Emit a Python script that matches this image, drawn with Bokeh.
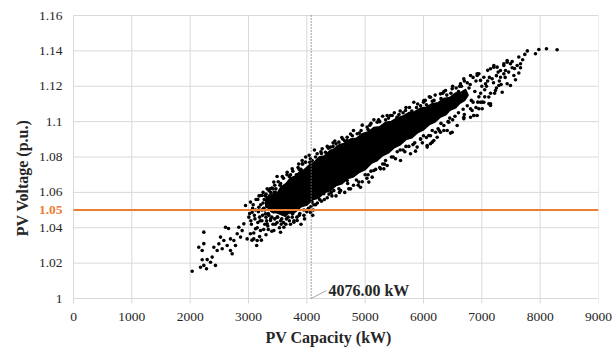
import math
from bokeh.plotting import figure
from bokeh.models import Range1d, FixedTicker, ColumnDataSource, Title
from bokeh.core.properties import value
from bokeh.embed import file_html
from bokeh.resources import INLINE

# ---------------- data ----------------
x_ticks = [0, 1000, 2000, 3000, 4000, 5000, 6000, 7000, 8000, 9000]
y_ticks = [1.00, 1.02, 1.04, 1.06, 1.08, 1.10, 1.12, 1.14, 1.16]
y_tick_labels = ["1", "1.02", "1.04", "1.06", "1.08", "1.1", "1.12", "1.14", "1.16"]
voltage_limit = 1.05          # p.u. (orange line)
capacity_at_limit = 4076.00   # kW (dotted line)

# sparse lower-left tail (kW, p.u.)
left_tail = [
    (2034, 1.0154), (2148, 1.0290), (2206, 1.0271), (2234, 1.0375), (2177, 1.0177),
    (2234, 1.0187), (2280, 1.0168), (2206, 1.0219), (2292, 1.0220), (2349, 1.0205),
    (2434, 1.0187), (2377, 1.0234), (2406, 1.0290), (2463, 1.0271), (2492, 1.0309),
    (2549, 1.0281), (2520, 1.0347), (2577, 1.0328), (2606, 1.0403), (2634, 1.0300),
    (2691, 1.0271), (2720, 1.0253), (2749, 1.0328), (2777, 1.0300), (2691, 1.0337),
    (2806, 1.0366), (2863, 1.0347), (2834, 1.0403), (2891, 1.0384), (2920, 1.0422),
    (2949, 1.0526), (3034, 1.0545), (2977, 1.0337), (3034, 1.0366), (3091, 1.0337),
    (3149, 1.0328), (3120, 1.0394), (3206, 1.0384), (3006, 1.0460), (3063, 1.0488),
    (3234, 1.0582), (3291, 1.0479), (3320, 1.0422), (3377, 1.0441), (3434, 1.0384),
    (3549, 1.0375), (3606, 1.0403), (3491, 1.0460), (3777, 1.0431), (3834, 1.0441),
    (3663, 1.0516), (3377, 1.0554), (3177, 1.0516), (2657, 1.0396), (2234, 1.0310),
]

# medium-density mass 3000-4100 kW
mid_mass = [
    (3020, 1.0480), (3050, 1.0420), (3070, 1.0510), (3090, 1.0370), (3110, 1.0450),
    (3130, 1.0560), (3150, 1.0400), (3170, 1.0490), (3190, 1.0350), (3210, 1.0530),
    (3230, 1.0440), (3250, 1.0600), (3260, 1.0390), (3280, 1.0500), (3300, 1.0460),
    (3320, 1.0570), (3330, 1.0410), (3350, 1.0530), (3370, 1.0620), (3380, 1.0450),
    (3400, 1.0380), (3410, 1.0550), (3430, 1.0490), (3450, 1.0640), (3460, 1.0420),
    (3480, 1.0580), (3500, 1.0460), (3510, 1.0660), (3530, 1.0400), (3550, 1.0600),
    (3560, 1.0500), (3580, 1.0690), (3600, 1.0430), (3620, 1.0630), (3640, 1.0540),
    (3660, 1.0700), (3680, 1.0460), (3700, 1.0600), (3720, 1.0420), (3740, 1.0510),
    (3760, 1.0720), (3780, 1.0440), (3800, 1.0660), (3830, 1.0460), (3860, 1.0760),
    (3880, 1.0480), (3900, 1.0420), (3920, 1.0780), (3950, 1.0470), (3980, 1.0800),
    (4010, 1.0500), (4040, 1.0810), (4070, 1.0520), (4100, 1.0470), (4130, 1.0840),
    (3060, 1.0330), (3140, 1.0300), (3220, 1.0330), (3300, 1.0360), (3180, 1.0580),
    (3270, 1.0560), (3340, 1.0480), (3420, 1.0420), (3440, 1.0600), (3520, 1.0560),
    (3570, 1.0450), (3620, 1.0500), (3660, 1.0580), (3700, 1.0650), (3730, 1.0560),
    (3780, 1.0610), (3810, 1.0520), (3206, 1.0582), (3320, 1.0620), (3434, 1.0658),
    (3380, 1.0600), (3490, 1.0690), (3100, 1.0470), (3160, 1.0430), (3240, 1.0470),
    (3280, 1.0420), (3310, 1.0520), (3360, 1.0580), (3390, 1.0500), (3420, 1.0620),
    (3470, 1.0530), (3490, 1.0430), (3540, 1.0640), (3590, 1.0550), (3630, 1.0470),
    (3670, 1.0650), (3690, 1.0510), (3720, 1.0700), (3750, 1.0460), (3200, 1.0440),
    (3260, 1.0510), (3340, 1.0390), (3460, 1.0600), (3520, 1.0500), (3580, 1.0620),
    (3640, 1.0420),
]

# more points inside / around the main band
band_extra = [
    (3040, 1.0440), (3080, 1.0530), (3120, 1.0500), (3160, 1.0560), (3190, 1.0460),
    (3230, 1.0500), (3250, 1.0540), (3290, 1.0580), (3310, 1.0440), (3350, 1.0610),
    (3370, 1.0510), (3400, 1.0460), (3440, 1.0540), (3470, 1.0620), (3500, 1.0520),
    (3530, 1.0600), (3560, 1.0420), (3600, 1.0600), (3650, 1.0480), (3700, 1.0440),
    (3760, 1.0480), (3820, 1.0700), (3870, 1.0730), (3930, 1.0760), (3960, 1.0450),
    (4000, 1.0490), (4060, 1.0790), (4110, 1.0500), (4180, 1.0540), (4240, 1.0830),
    (4300, 1.0560), (4370, 1.0850), (4430, 1.0580), (4480, 1.0890), (4560, 1.0600),
    (4620, 1.0900), (4720, 1.0620), (4780, 1.0920), (4880, 1.0640), (4930, 1.0950),
    (5030, 1.0680), (5080, 1.0980), (5180, 1.0730), (5230, 1.1010), (5330, 1.0760),
    (5400, 1.1020), (5520, 1.0790), (5580, 1.1040), (5680, 1.0830), (5760, 1.1080),
    (5820, 1.0870), (5880, 1.1080), (5980, 1.0880), (6030, 1.1120), (6120, 1.0920),
    (6180, 1.1120), (6270, 1.0950), (6330, 1.1160), (6420, 1.1000), (6470, 1.1160),
    (6540, 1.1030), (6620, 1.1200), (6680, 1.1070), (6780, 1.1190), (6820, 1.1120),
    (6880, 1.1170), (6930, 1.1110), (6980, 1.1160), (7080, 1.1200), (7130, 1.1250),
    (7200, 1.1220), (7220, 1.1160), (7280, 1.1280), (7330, 1.1210), (7400, 1.1250),
    (7460, 1.1280), (7520, 1.1340), (7560, 1.1300), (7700, 1.1350), (7780, 1.1400),
]

# points along the upper edge of the cloud
upper_fringe = [
    (3663, 1.0714), (3749, 1.0733), (3920, 1.0761), (3977, 1.0771), (4091, 1.0780),
    (4177, 1.0818), (4263, 1.0846), (4320, 1.0827), (4406, 1.0856), (4520, 1.0856),
    (4549, 1.0884), (4691, 1.0912), (4863, 1.0931), (5034, 1.0969), (5206, 1.0997),
    (5377, 1.1035), (5434, 1.1035), (5463, 1.1035), (5549, 1.1025), (5691, 1.1063),
    (5720, 1.1035), (5834, 1.1110), (6006, 1.1119), (6120, 1.1138), (6291, 1.1157),
    (6377, 1.1176), (6491, 1.1186), (6634, 1.1214), (6691, 1.1242), (6806, 1.1261),
    (6920, 1.1270), (7034, 1.1251), (7206, 1.1308), (7377, 1.1317), (7434, 1.1336),
    (4350, 1.0860), (4450, 1.0880), (4600, 1.0910), (4750, 1.0930), (4800, 1.0950),
    (4950, 1.0980), (5100, 1.0990), (5150, 1.1010), (5300, 1.1030), (5500, 1.1050),
    (5600, 1.1060), (5700, 1.1080), (5900, 1.1100), (6000, 1.1110), (6100, 1.1140),
    (6200, 1.1150), (6350, 1.1170), (6500, 1.1200), (6560, 1.1190), (6700, 1.1230),
    (6750, 1.1220), (6850, 1.1250), (6950, 1.1270), (7100, 1.1290), (4691, 1.0893),
    (3300, 1.0590), (3400, 1.0625), (3550, 1.0650), (3600, 1.0680), (3700, 1.0690),
    (3850, 1.0740), (3900, 1.0730), (4050, 1.0770), (4150, 1.0800), (4250, 1.0820),
    (4450, 1.0860), (4500, 1.0875), (4650, 1.0890), (4900, 1.0935), (5050, 1.0955),
    (5250, 1.1000), (5350, 1.1010), (5550, 1.1025), (5650, 1.1050), (5800, 1.1060),
    (5950, 1.1090), (6050, 1.1095), (6150, 1.1115), (6300, 1.1130), (6400, 1.1150),
    (6600, 1.1170), (6650, 1.1200), (6800, 1.1210), (6900, 1.1230), (7000, 1.1200),
    (7050, 1.1180), (7100, 1.1230), (7250, 1.1260), (7300, 1.1230),
]

# points along the lower edge of the cloud
lower_fringe = [
    (4063, 1.0486), (4091, 1.0545), (4150, 1.0530), (4177, 1.0573), (4220, 1.0560),
    (4291, 1.0592), (4350, 1.0570), (4420, 1.0600), (4463, 1.0611), (4500, 1.0580),
    (4580, 1.0610), (4650, 1.0600), (4691, 1.0667), (4749, 1.0620), (4800, 1.0640),
    (4891, 1.0658), (4920, 1.0629), (4950, 1.0660), (5050, 1.0700), (5063, 1.0658),
    (5120, 1.0686), (5149, 1.0724), (5250, 1.0740), (5263, 1.0733), (5320, 1.0733),
    (5350, 1.0780), (5377, 1.0752), (5480, 1.0800), (5550, 1.0830), (5606, 1.0780),
    (5650, 1.0840), (5750, 1.0860), (5777, 1.0818), (5863, 1.0833), (5891, 1.0856),
    (5949, 1.0903), (5950, 1.0900), (6050, 1.0910), (6063, 1.0856), (6063, 1.0865),
    (6091, 1.0922), (6120, 1.0875), (6149, 1.0884), (6177, 1.0893), (6206, 1.0940),
    (6234, 1.0912), (6250, 1.0960), (6291, 1.0940), (6349, 1.0950), (6349, 1.0978),
    (6406, 1.0950), (6434, 1.0997), (6463, 1.0935), (6491, 1.0940), (6500, 1.1010),
    (6577, 1.0978), (6691, 1.1016), (6691, 1.1025), (6700, 1.1040), (6806, 1.1025),
    (6806, 1.1073), (6834, 1.1063), (6863, 1.1035), (6900, 1.1080), (6920, 1.1035),
    (6949, 1.1073), (6977, 1.1110), (7006, 1.1110), (7120, 1.1101), (7149, 1.1101),
    (3350, 1.0470), (3450, 1.0450), (3550, 1.0440), (3650, 1.0450), (3750, 1.0480),
    (3870, 1.0470), (3950, 1.0500), (4030, 1.0510), (4120, 1.0530), (4250, 1.0550),
    (4380, 1.0590), (4550, 1.0620), (4700, 1.0650), (4850, 1.0670), (5000, 1.0700),
    (5100, 1.0720), (5300, 1.0760), (5450, 1.0800), (5600, 1.0840), (5700, 1.0860),
    (5850, 1.0880), (6000, 1.0920), (6150, 1.0950), (6300, 1.0990), (6450, 1.1020),
    (6600, 1.1050), (6750, 1.1090), (6850, 1.1110), (6950, 1.1140), (7050, 1.1140),
    (7150, 1.1160), (7250, 1.1190),
]

# sparse upper-right tail
right_tail = [
    (8290, 1.1406), (8108, 1.1412), (7977, 1.1408), (7920, 1.1384), (7737, 1.1380),
    (7634, 1.1365), (7663, 1.1327), (7606, 1.1317), (7663, 1.1305), (7634, 1.1275),
    (7520, 1.1305), (7491, 1.1327), (7434, 1.1346), (7377, 1.1327), (7549, 1.1261),
    (7491, 1.1204), (7434, 1.1214), (7577, 1.1237), (7377, 1.1270), (7320, 1.1289),
    (7263, 1.1308), (7206, 1.1317), (7149, 1.1299), (7349, 1.1166), (7234, 1.1176),
    (7120, 1.1139), (7149, 1.1091), (7034, 1.1110), (7006, 1.1073), (6863, 1.1035),
    (7291, 1.1204), (7320, 1.1251), (7406, 1.1289), (7177, 1.1242), (7063, 1.1214),
    (6977, 1.1233), (6920, 1.1261),
]

# outline of the solid dense core of the cloud
core_upper = [
    (3300, 1.0555), (3400, 1.0590), (3480, 1.0585), (3560, 1.0630), (3650, 1.0650),
    (3720, 1.0680), (3800, 1.0690), (3880, 1.0715), (3950, 1.0725), (4050, 1.0755),
    (4130, 1.0770), (4220, 1.0800), (4300, 1.0805), (4400, 1.0835), (4480, 1.0845),
    (4560, 1.0870), (4650, 1.0875), (4750, 1.0900), (4850, 1.0905), (4950, 1.0930),
    (5050, 1.0940), (5150, 1.0965), (5250, 1.0970), (5350, 1.0995), (5450, 1.1000),
    (5550, 1.1020), (5650, 1.1030), (5750, 1.1050), (5850, 1.1055), (5950, 1.1075),
    (6050, 1.1080), (6150, 1.1100), (6250, 1.1105), (6350, 1.1130), (6450, 1.1135),
    (6550, 1.1160), (6650, 1.1165), (6720, 1.1180),
]
core_lower = [
    (6760, 1.1150), (6700, 1.1120), (6620, 1.1105), (6550, 1.1080), (6450, 1.1065),
    (6380, 1.1040), (6280, 1.1025), (6200, 1.1000), (6100, 1.0985), (6000, 1.0955),
    (5900, 1.0940), (5800, 1.0910), (5700, 1.0900), (5600, 1.0870), (5500, 1.0855),
    (5400, 1.0825), (5300, 1.0810), (5200, 1.0780), (5100, 1.0765), (5000, 1.0730),
    (4900, 1.0715), (4800, 1.0690), (4700, 1.0680), (4600, 1.0650), (4500, 1.0640),
    (4400, 1.0610), (4300, 1.0600), (4200, 1.0570), (4100, 1.0560), (4000, 1.0530),
    (3900, 1.0520), (3800, 1.0490), (3700, 1.0485), (3600, 1.0470), (3500, 1.0485),
    (3400, 1.0490), (3300, 1.0525),
]

# ---------------- layout / style ----------------
W, H = 614, 350
DATA_TOP, DATA_BOTTOM = 15, 298   # screen y of 1.16 and 1.00
PAD = 8                           # extra frame room above/below the data area
RIGHT = 16
AXIS_AT = 73                      # screen x of x = 0
plot_px = W - RIGHT - AXIS_AT
kw_per_px = (x_ticks[-1] - x_ticks[0]) / plot_px
pu_per_px = (y_ticks[-1] - y_ticks[0]) / (DATA_BOTTOM - DATA_TOP)
x_left = x_ticks[0] - AXIS_AT * kw_per_px
y_lo = y_ticks[0] - PAD * pu_per_px
y_hi = y_ticks[-1] + PAD * pu_per_px

SERIF = "Liberation Serif"
TXT = "#262626"
GRID = "#d9d9d9"
ORANGE = "#ED7D31"

p = figure(width=W, height=H, output_backend="svg", toolbar_location=None,
           x_range=Range1d(x_left, x_ticks[-1]), y_range=Range1d(y_lo, y_hi),
           min_border_left=0, min_border_right=RIGHT, min_border_top=DATA_TOP - PAD,
           min_border_bottom=H - DATA_BOTTOM - PAD, y_axis_location=None)
p.outline_line_color = None
p.grid.visible = False
p.background_fill_color = "white"
p.border_fill_color = "white"

xa = p.xaxis[0]
xa.ticker = FixedTicker(ticks=x_ticks)
xa.axis_line_color = None
xa.major_tick_line_color = None
xa.major_tick_out = 0
xa.major_tick_in = 0
xa.minor_tick_line_color = None
xa.major_label_standoff = 6
xa.major_label_text_font = SERIF
xa.major_label_text_font_size = "13.5px"
xa.major_label_text_color = TXT

p.add_layout(Title(text="PV Capacity (kW)", align="left", offset=265, standoff=6,
                   text_font=SERIF, text_font_size="16px", text_font_style="bold",
                   text_color=TXT), "below")

# gridlines (drawn only over the data area) and x tick marks
p.segment(x0=[x_ticks[0]] * len(y_ticks), x1=[x_ticks[-1]] * len(y_ticks), y0=y_ticks, y1=y_ticks,
          line_color=GRID, line_width=1)
p.segment(x0=x_ticks, x1=x_ticks, y0=[y_ticks[0]] * len(x_ticks), y1=[y_ticks[-1]] * len(x_ticks),
          line_color=GRID, line_width=1)
p.segment(x0=x_ticks, x1=x_ticks, y0=[y_ticks[0]] * len(x_ticks),
          y1=[y_ticks[0] - 5 * pu_per_px] * len(x_ticks), line_color=GRID, line_width=1)

# y tick labels and title
p.text(x=[x_ticks[0]] * len(y_ticks), y=y_ticks, text=y_tick_labels, x_offset=-11,
       text_align="right", text_baseline="middle", text_font=value(SERIF),
       text_font_size="13.5px", text_color=TXT)
p.text(x=[x_left], y=[(y_ticks[0] + y_ticks[-1]) / 2], text=["PV Voltage (p.u.)"], x_offset=22,
       y_offset=21, angle=math.pi / 2, text_align="center", text_baseline="middle",
       text_font=value(SERIF), text_font_size="16px", text_font_style="bold", text_color=TXT)

# dense core
cx = [a for a, b in core_upper] + [a for a, b in core_lower]
cy = [b for a, b in core_upper] + [b for a, b in core_lower]
p.patch(cx, cy, fill_color="black", line_color="black", line_width=2, line_join="round")

# scattered points
pts = left_tail + mid_mass + band_extra + upper_fringe + lower_fringe + right_tail
src = ColumnDataSource(dict(kw=[a for a, b in pts], pu=[b for a, b in pts]))
p.scatter("kw", "pu", source=src, size=3.6, fill_color="black", line_color=None)

# reference lines
p.segment(x0=[x_ticks[0]], x1=[x_ticks[-1]], y0=[voltage_limit], y1=[voltage_limit],
          line_color=ORANGE, line_width=2)
p.segment(x0=[capacity_at_limit], x1=[capacity_at_limit], y0=[y_ticks[0]], y1=[y_ticks[-1]],
          line_color="#7f7f7f", line_width=1.5, line_dash="1 2")

# orange 1.05 label on the value axis
p.text(x=[x_ticks[0]], y=[voltage_limit], text=[f"{voltage_limit:.2f}"], x_offset=-11,
       text_align="right", text_baseline="middle", text_font=value(SERIF),
       text_font_size="13.5px", text_font_style="bold", text_color=ORANGE)

# callout for the capacity value
lead_x = [capacity_at_limit, capacity_at_limit + 260]
lead_y = [y_ticks[0], y_ticks[0] + 0.0045]
p.line(lead_x, lead_y, line_color="#a6a6a6", line_width=1)
p.text(x=[lead_x[1]], y=[lead_y[1]], text=[f"{capacity_at_limit:.2f} kW"], x_offset=2,
       text_align="left", text_baseline="middle", text_font=value(SERIF),
       text_font_size="16px", text_font_style="bold", text_color=TXT)

open("out.html", "w").write(file_html(p, INLINE))
